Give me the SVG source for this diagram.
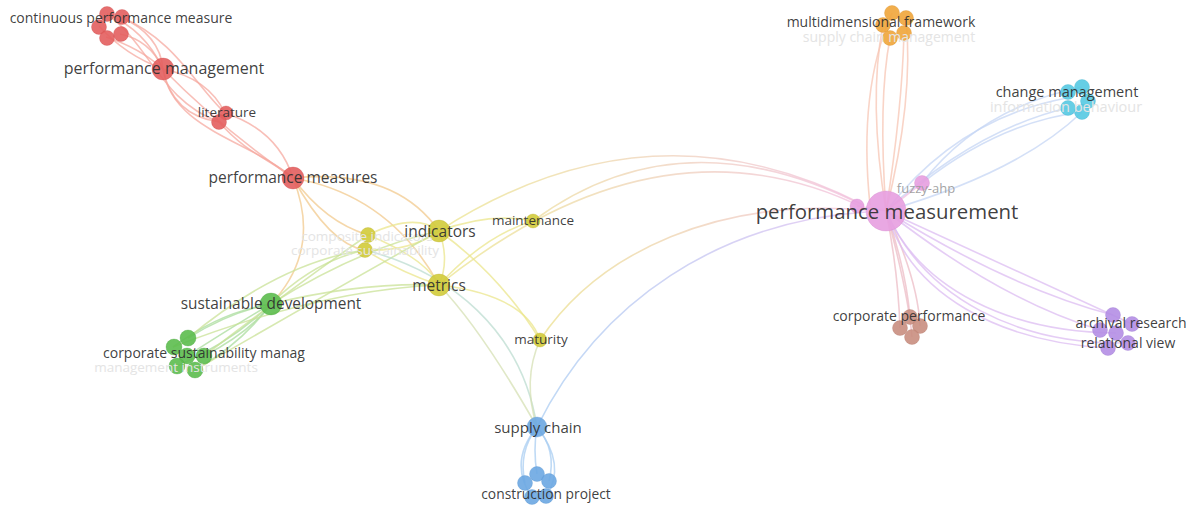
<svg xmlns="http://www.w3.org/2000/svg" width="1196" height="506" viewBox="0 0 1196 506">
  <style>
    .e { fill: none; stroke-width: 1.6; stroke-opacity: 0.75; }
    .red { stroke: #f6aaa0; }
    .ry { stroke: #f2c98e; }
    .yel { stroke: #ebe58c; }
    .yg { stroke: #c9e297; }
    .grn { stroke: #a9dc9c; }
    .gb { stroke: #bcdcd0; }
    .blu { stroke: #aacdf2; }
    .yb { stroke: #d6e0b4; }
    .pnk { stroke: #f2bde2; }
    .po { stroke: #f7c6b4; }
    .pc { stroke: #c6d6f4; }
    .pp { stroke: #dcbcf2; }
    .pb { stroke: #ecbcc6; }
    .n { stroke-width: 0.6; stroke-opacity: 0.5; fill-opacity: 0.9; }
    .nr { fill: #e35e5e; stroke: #c84848; }
    .ny { fill: #d2cb3a; stroke: #b7b02c; }
    .ng { fill: #5cbd4e; stroke: #47a03c; }
    .nb { fill: #6ca7e2; stroke: #5590cb; }
    .np { fill: #e79ee0; stroke: #d184c9; }
    .no { fill: #f0a53a; stroke: #d68c28; }
    .nc { fill: #55c9e2; stroke: #3fb0c8; }
    .nw { fill: #c98e80; stroke: #b27668; }
    .nv { fill: #b48ee4; stroke: #9b75cc; }
    text { font-family: "Open Sans", "DejaVu Sans", sans-serif; text-anchor: middle; fill: #2e2e2e; fill-opacity: 0.92; }
    .faint { fill: #e4e4e4; fill-opacity: 1; }
    .dim { fill: #9a9a9a; }
  </style>
  <defs>
    <linearGradient id="gIndPm" gradientUnits="userSpaceOnUse" x1="440" y1="0" x2="880" y2="0">
      <stop offset="0" stop-color="#ebe58c"/>
      <stop offset="1" stop-color="#f2bde2"/>
    </linearGradient>
    <linearGradient id="gMatPm" gradientUnits="userSpaceOnUse" x1="540" y1="0" x2="880" y2="0">
      <stop offset="0" stop-color="#ebe08c"/>
      <stop offset="1" stop-color="#f2bde2"/>
    </linearGradient>
    <linearGradient id="gScPm" gradientUnits="userSpaceOnUse" x1="537" y1="0" x2="880" y2="0">
      <stop offset="0" stop-color="#aacdf2"/>
      <stop offset="1" stop-color="#e2bcf0"/>
    </linearGradient>
  </defs>

  <!-- links between keywords -->
  <g id="connectors">
    <!-- red cluster -->
    <path class="e red" d="M107,14 Q145,30 163,69"/>
    <path class="e red" d="M121,17 Q160,35 163,69"/>
    <path class="e red" d="M99,26 Q125,55 163,69"/>
    <path class="e red" d="M106,37 Q140,48 163,69"/>
    <path class="e red" d="M120,34 Q150,40 163,69"/>
    <path class="e red" d="M121,17 C175,40 195,85 225,113"/>
    <path class="e red" d="M107,14 C150,45 160,100 219,122"/>
    <path class="e red" d="M163,69 Q208,78 225,113"/>
    <path class="e red" d="M163,69 Q172,115 219,122"/>
    <path class="e red" d="M163,69 C205,112 250,148 293,178"/>
    <path class="e red" d="M163,69 C172,130 250,140 293,178"/>
    <path class="e red" d="M225,113 C265,126 284,150 293,178"/>
    <path class="e red" d="M219,122 C248,155 272,160 293,178"/>
    <!-- performance measures -->
    <path class="e ry" d="M293,178 Q322,250 271,304"/>
    <path class="e ry" d="M293,178 Q325,222 368,235"/>
    <path class="e ry" d="M293,178 Q330,245 365,250"/>
    <path class="e ry" d="M293,178 Q395,168 439,231"/>
    <path class="e ry" d="M293,178 Q390,195 439,285"/>
    <!-- yellow cluster -->
    <path class="e yel" d="M368,235 Q415,212 439,231"/>
    <path class="e yel" d="M365,250 Q410,252 439,231"/>
    <path class="e yel" d="M368,235 Q425,258 439,285"/>
    <path class="e yel" d="M365,250 Q400,272 439,285"/>
    <path class="e yel" d="M439,231 Q450,260 439,285"/>
    <path class="e yel" d="M439,231 Q490,212 533,221"/>
    <path class="e yel" d="M439,285 Q485,235 533,221"/>
    <path class="e yel" d="M439,285 Q525,295 540,340"/>
    <path class="e yel" d="M439,231 Q500,275 540,340"/>
    <path class="e" stroke="url(#gIndPm)" d="M439,231 Q650,95 864,205"/>
    <path class="e" stroke="url(#gIndPm)" d="M533,221 Q680,112 864,206"/>
    <path class="e" stroke="url(#gIndPm)" d="M439,285 Q660,108 864,208"/>
    <path class="e" stroke="url(#gMatPm)" d="M540,340 C600,250 720,198 866,210"/>
    <!-- green cluster -->
    <path class="e grn" d="M188,338 Q230,312 271,304"/>
    <path class="e grn" d="M173,347 Q220,312 271,304"/>
    <path class="e grn" d="M204,356 Q250,332 271,304"/>
    <path class="e grn" d="M187,356 Q240,322 271,304"/>
    <path class="e grn" d="M177,366 Q232,342 271,304"/>
    <path class="e grn" d="M195,370 Q240,345 271,304"/>
    <path class="e yg" d="M188,338 Q280,262 365,250"/>
    <path class="e yg" d="M204,356 Q300,282 368,235"/>
    <path class="e yg" d="M195,370 Q330,292 439,231"/>
    <path class="e yg" d="M173,347 Q320,290 439,285"/>
    <path class="e yg" d="M271,304 Q312,262 365,250"/>
    <path class="e yg" d="M271,304 Q360,248 439,231"/>
    <path class="e yg" d="M271,304 Q360,282 439,285"/>
    <path class="e gb" d="M365,250 C450,272 522,330 537,427"/>
    <!-- blue cluster -->
    <path class="e yb" d="M537,427 Q522,380 540,340"/>
    <path class="e yb" d="M537,427 Q482,330 439,285"/>
    <path class="e" stroke="url(#gScPm)" d="M537,427 C600,300 720,222 866,212"/>
    <path class="e blu" d="M537,427 Q518,452 525,483"/>
    <path class="e blu" d="M537,427 Q557,450 549,481"/>
    <path class="e blu" d="M537,427 Q533,450 537,474"/>
    <path class="e blu" d="M537,427 Q508,462 532,498"/>
    <path class="e blu" d="M537,427 Q567,465 546,497"/>
    <!-- performance measurement -->
    <path class="e po" d="M886,211 Q868,100 883,25"/>
    <path class="e po" d="M886,211 Q878,100 890,38"/>
    <path class="e po" d="M886,211 Q902,110 904,33"/>
    <path class="e po" d="M886,211 Q914,100 906,17"/>
    <path class="e po" d="M870,205 Q858,90 892,13"/>
    <path class="e pc" d="M886,211 Q958,118 1067,98"/>
    <path class="e pc" d="M886,211 Q975,130 1067,108"/>
    <path class="e pc" d="M922,183 Q980,108 1082,87"/>
    <path class="e pc" d="M922,183 Q1000,122 1082,112"/>
    <path class="e pc" d="M886,211 Q1020,172 1082,112"/>
    <path class="e pnk" d="M886,211 L922,183"/>
    <path class="e pnk" d="M886,211 L857,206"/>
    <path class="e pb" d="M886,211 Q898,270 900,328"/>
    <path class="e pb" d="M886,211 Q906,270 910,317"/>
    <path class="e pb" d="M886,211 Q918,280 920,326"/>
    <path class="e pb" d="M886,211 Q908,292 912,337"/>
    <path class="e pp" d="M886,211 Q1000,300 1100,330"/>
    <path class="e pp" d="M886,211 Q1010,288 1113,315"/>
    <path class="e pp" d="M886,211 Q1025,275 1132,324"/>
    <path class="e pp" d="M886,211 C910,295 1000,342 1108,348"/>
    <path class="e pp" d="M886,211 C920,290 1010,332 1116,333"/>
    <path class="e pp" d="M886,211 C925,300 1020,345 1128,343"/>
  </g>

  <!-- keyword circles -->
  <g id="node-continuous-performance-measure">
    <circle class="n nr" cx="107" cy="14" r="7.5"/>
    <circle class="n nr" cx="122" cy="17" r="7.5"/>
    <circle class="n nr" cx="99" cy="27" r="7.5"/>
    <circle class="n nr" cx="107" cy="38" r="7.5"/>
    <circle class="n nr" cx="121" cy="34" r="7.5"/>
  </g>
  <g id="node-performance-management"><circle class="n nr" cx="163" cy="69" r="11"/></g>
  <g id="node-literature">
    <circle class="n nr" cx="226" cy="113" r="7"/>
    <circle class="n nr" cx="219" cy="122" r="7.5"/>
  </g>
  <g id="node-performance-measures"><circle class="n nr" cx="293" cy="178" r="11"/></g>
  <g id="node-composite-indicators">
    <circle class="n ny" cx="368" cy="235" r="7.5"/>
    <circle class="n ny" cx="365" cy="250" r="7.5"/>
  </g>
  <g id="node-indicators"><circle class="n ny" cx="439" cy="231" r="11"/></g>
  <g id="node-metrics"><circle class="n ny" cx="439" cy="285" r="11"/></g>
  <g id="node-maintenance"><circle class="n ny" cx="533" cy="221" r="7"/></g>
  <g id="node-maturity"><circle class="n ny" cx="540" cy="340" r="7"/></g>
  <g id="node-sustainable-development"><circle class="n ng" cx="271" cy="304" r="11"/></g>
  <g id="node-corporate-sustainability-management">
    <circle class="n ng" cx="188" cy="338" r="8"/>
    <circle class="n ng" cx="174" cy="347" r="8"/>
    <circle class="n ng" cx="187" cy="356" r="8"/>
    <circle class="n ng" cx="204" cy="356" r="8"/>
    <circle class="n ng" cx="177" cy="366" r="8"/>
    <circle class="n ng" cx="195" cy="370" r="8"/>
  </g>
  <g id="node-supply-chain"><circle class="n nb" cx="537" cy="427" r="10"/></g>
  <g id="node-construction-project">
    <circle class="n nb" cx="537" cy="474" r="7.5"/>
    <circle class="n nb" cx="525" cy="483" r="7.5"/>
    <circle class="n nb" cx="549" cy="481" r="7.5"/>
    <circle class="n nb" cx="532" cy="497" r="7.5"/>
    <circle class="n nb" cx="546" cy="496" r="7.5"/>
  </g>
  <g id="node-performance-measurement">
    <circle class="n np" cx="857" cy="206" r="7"/>
    <circle class="n np" cx="886" cy="211" r="20"/>
  </g>
  <g id="node-fuzzy-ahp"><circle class="n np" cx="922" cy="183" r="7.5"/></g>
  <g id="node-multidimensional-framework">
    <circle class="n no" cx="892" cy="13" r="7.5"/>
    <circle class="n no" cx="906" cy="18" r="7.5"/>
    <circle class="n no" cx="883" cy="25" r="7.5"/>
    <circle class="n no" cx="904" cy="33" r="7.5"/>
    <circle class="n no" cx="890" cy="38" r="7.5"/>
  </g>
  <g id="node-change-management">
    <circle class="n nc" cx="1082" cy="87" r="7.5"/>
    <circle class="n nc" cx="1068" cy="92" r="7.5"/>
    <circle class="n nc" cx="1088" cy="101" r="7.5"/>
    <circle class="n nc" cx="1068" cy="108" r="7.5"/>
    <circle class="n nc" cx="1082" cy="112" r="7.5"/>
  </g>
  <g id="node-corporate-performance">
    <circle class="n nw" cx="910" cy="317" r="7.5"/>
    <circle class="n nw" cx="900" cy="328" r="7.5"/>
    <circle class="n nw" cx="920" cy="326" r="7.5"/>
    <circle class="n nw" cx="912" cy="337" r="7.5"/>
  </g>
  <g id="node-archival-research">
    <circle class="n nv" cx="1113" cy="315" r="7.5"/>
    <circle class="n nv" cx="1132" cy="324" r="7.5"/>
    <circle class="n nv" cx="1100" cy="330" r="7.5"/>
    <circle class="n nv" cx="1116" cy="333" r="7.5"/>
    <circle class="n nv" cx="1128" cy="343" r="7.5"/>
    <circle class="n nv" cx="1108" cy="348" r="7.5"/>
  </g>

  <!-- keyword labels -->
  <g id="labels">
    <text class="faint" x="367" y="241" font-size="13.5">composite indicators</text>
    <text class="faint" x="365" y="255" font-size="13.5">corporate sustainability</text>
    <text class="faint" x="176" y="372" font-size="13.5">management instruments</text>
    <text class="faint" x="889" y="42" font-size="14">supply chain management</text>
    <text class="faint" x="1066" y="112" font-size="14.5">information behaviour</text>
    <text x="121" y="23" font-size="14">continuous performance measure</text>
    <text x="164" y="74" font-size="16">performance management</text>
    <text x="227" y="117" font-size="13.5">literature</text>
    <text x="293" y="183" font-size="15.5">performance measures</text>
    <text x="440" y="237" font-size="15.5">indicators</text>
    <text x="439" y="291" font-size="15.5">metrics</text>
    <text x="533" y="225" font-size="13.5">maintenance</text>
    <text x="541" y="344" font-size="13.5">maturity</text>
    <text x="271" y="309" font-size="15.4">sustainable development</text>
    <text x="204" y="358" font-size="14">corporate sustainability manag</text>
    <text x="538" y="433" font-size="15">supply chain</text>
    <text x="546" y="499" font-size="13.8">construction project</text>
    <text x="887" y="219" font-size="20.4">performance measurement</text>
    <text class="dim" x="926" y="193" font-size="13">fuzzy-ahp</text>
    <text x="881" y="27" font-size="14">multidimensional framework</text>
    <text x="1067" y="97" font-size="14.5">change management</text>
    <text x="909" y="321" font-size="14">corporate performance</text>
    <text x="1131" y="328" font-size="14">archival research</text>
    <text x="1128" y="348" font-size="14">relational view</text>
  </g>
</svg>
